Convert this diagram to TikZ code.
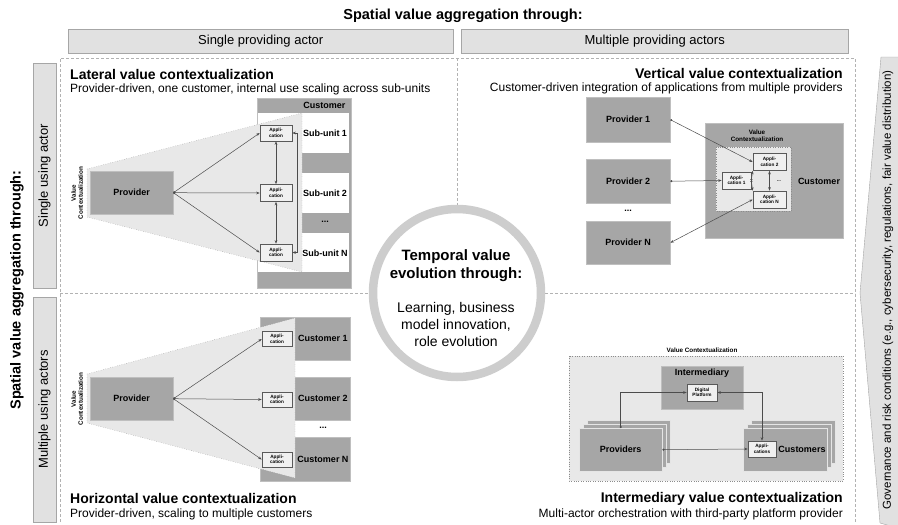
\documentclass[tikz,border=0pt]{standalone}
\usepackage{fontspec}
\setmainfont{Liberation Sans}
\usetikzlibrary{arrows.meta}
\definecolor{boxgray}{HTML}{A6A6A6}
\definecolor{hdrgray}{HTML}{E1E1E1}
\definecolor{fangray}{HTML}{E8E8E8}
\definecolor{ringgray}{HTML}{CDCDCD}
\newcommand{\fsHead}{\fontsize{14.5}{16}\selectfont\bfseries}
\newcommand{\fsBar}{\fontsize{13}{15}\selectfont}
\newcommand{\fsTitle}{\fontsize{14}{16}\selectfont\bfseries}
\newcommand{\fsSub}{\fontsize{12}{14}\selectfont}
\newcommand{\fsBox}{\fontsize{9}{10.5}\selectfont\bfseries}
\newcommand{\fsApp}{\fontsize{4.7}{5.4}\selectfont\bfseries}
\newcommand{\fsVC}{\fontsize{6.3}{7}\selectfont\bfseries}
\begin{document}
\begin{tikzpicture}[x=1pt,y=-1pt,
  hdrbox/.style={draw=black!35, fill=hdrgray, font=\fsBar, inner sep=0pt},
  darkbox/.style={fill=boxgray, draw=black!25, font=\fsBox, inner sep=0pt, anchor=north west},
  appbox/.style={fill=black!6, draw=black!65, line width=0.6pt, font=\fsApp, align=center, inner sep=0pt},
  fan/.style={fill=fangray, draw=black!45, dotted},
  sep/.style={draw=black!30, line width=0.6pt, dash pattern=on 3pt off 2pt},
  conn/.style={draw=black!70, line width=0.5pt, {Circle[length=2pt]}-{Stealth[length=3.5pt,width=2.6pt]}},
  dbl/.style={draw=black!70, line width=0.5pt, {Stealth[length=3.5pt,width=2.6pt]}-{Stealth[length=3.5pt,width=2.6pt]}},
  ttl/.style={font=\fsTitle, inner sep=0pt},
  subttl/.style={font=\fsSub, inner sep=0pt}]
  \useasboundingbox (0,0) rectangle (898,525);

  \node[font=\fsHead] (head) at (463,16) {Spatial value aggregation through:};
  \node[hdrbox, anchor=north west, minimum width=385pt, minimum height=24pt] (hsingle) at (68,29) {Single providing actor};
  \node[hdrbox, anchor=north west, minimum width=387pt, minimum height=24pt] (hmulti) at (461,29) {Multiple providing actors};
  \node[font=\fsHead, rotate=90] (headv) at (17,290) {Spatial value aggregation through:};
  \node[hdrbox, rotate=90, minimum width=225pt, minimum height=23pt] (husesingle) at (44.5,175.5) {Single using actor};
  \node[hdrbox, rotate=90, minimum width=225pt, minimum height=23pt] (husemulti) at (44.5,409.5) {Multiple using actors};

  \filldraw[draw=black!35, fill=hdrgray] (881,57) -- (905,57) -- (905,530) -- (880,523) -- (860,293) -- cycle;
  \node[font=\fontsize{11.5}{13}\selectfont, rotate=90] (gov) at (888,290) {Governance and risk conditions (e.g., cybersecurity, regulations, fair value distribution)};

  \draw[sep] (60,522) -- (60,58) -- (855,58) -- (855,522);
  \draw[sep] (457,58) -- (457,293);
  \draw[sep] (60,293) -- (855,293);

  % lateral
  \node[ttl, anchor=west] (latttl) at (70,74) {Lateral value contextualization};
  \node[subttl, anchor=west] (latsub) at (70,89) {Provider-driven, one customer, internal use scaling across sub-units};
  \node[darkbox, minimum width=94pt, minimum height=190pt] (latcust) at (257,98) {};
  \node[font=\fsBox, anchor=east] (latcusttxt) at (349,105) {Customer};
  \fill[white] (258,113) rectangle (349,153);
  \fill[white] (258,173) rectangle (349,213);
  \fill[white] (258,233) rectangle (349,272);
  \draw[fan] (87,169) -- (302,113) -- (302,272) -- (87,217) -- cycle;
  \node[darkbox, minimum width=83pt, minimum height=43pt] (latprov) at (90,171) {Provider};
  \node[font=\fsVC, rotate=90, align=center] (latvc) at (77,193) {Value\\Contextualization};
  \node[font=\fsBox] (su1) at (325,133) {Sub-unit 1};
  \node[font=\fsBox] (su2) at (325,193) {Sub-unit 2};
  \node[font=\fsBox] (sudots) at (325,222) {...};
  \node[font=\fsBox] (sun) at (325,253) {Sub-unit N};
  \node[appbox, minimum width=32pt, minimum height=16pt] (latapp1) at (276,133) {Appli-\\cation};
  \node[appbox, minimum width=32pt, minimum height=17pt] (latapp2) at (276,193) {Appli-\\cation};
  \node[appbox, minimum width=32pt, minimum height=17pt] (latappn) at (276,252.5) {Appli-\\cation};
  \draw[conn] (latprov.east) -- (latapp1.west);
  \draw[conn] (latprov.east) -- (latapp2.west);
  \draw[conn] (latprov.east) -- (latappn.west);
  \draw[dbl] (latapp1.south) -- (latapp2.north);
  \draw[dbl] (latapp2.south) -- (latappn.north);
  \draw[dbl] (latapp1.east) -- ++(5,0) |- (latappn.east);

  % horizontal
  \node[ttl, anchor=west] (horttl) at (70,498) {Horizontal value contextualization};
  \node[subttl, anchor=west] (horsub) at (70,514) {Provider-driven, scaling to multiple customers};
  \node[darkbox, minimum width=90pt, minimum height=43pt] (horcust1) at (260,317) {};
  \node[darkbox, minimum width=90pt, minimum height=43pt] (horcust2) at (260,377) {};
  \node[darkbox, minimum width=90pt, minimum height=44pt] (horcustn) at (260,437) {};
  \draw[fan] (87,374) -- (295,318) -- (295,478) -- (87,423) -- cycle;
  \node[darkbox, minimum width=83pt, minimum height=43pt] (horprov) at (90,377) {Provider};
  \node[font=\fsVC, rotate=90, align=center] (horvc) at (77,399) {Value\\Contextualization};
  \node[font=\fsBox] (hc1) at (323,338.5) {Customer 1};
  \node[font=\fsBox] (hc2) at (323,398.5) {Customer 2};
  \node[font=\fsBox] (hcdots) at (323,428) {...};
  \node[font=\fsBox] (hcn) at (323,459) {Customer N};
  \node[appbox, minimum width=30pt, minimum height=15pt] (horapp1) at (277,339) {Appli-\\cation};
  \node[appbox, minimum width=30pt, minimum height=15pt] (horapp2) at (277,399.5) {Appli-\\cation};
  \node[appbox, minimum width=30pt, minimum height=15pt] (horappn) at (277,459.5) {Appli-\\cation};
  \draw[conn] (horprov.east) -- (horapp1.west);
  \draw[conn] (horprov.east) -- (horapp2.west);
  \draw[conn] (horprov.east) -- (horappn.west);

  % vertical
  \node[ttl, anchor=east] (verttl) at (843,73) {Vertical value contextualization};
  \node[subttl, anchor=east] (versub) at (843,88) {Customer-driven integration of applications from multiple providers};
  \node[darkbox, minimum width=84pt, minimum height=45pt] (verprov1) at (586,97) {Provider 1};
  \node[darkbox, minimum width=84pt, minimum height=44pt] (verprov2) at (586,159) {Provider 2};
  \node[font=\fsBox] (vpdots) at (628,211) {...};
  \node[darkbox, minimum width=84pt, minimum height=43pt] (verprovn) at (586,221) {Provider N};
  \node[darkbox, minimum width=138pt, minimum height=115pt] (vercust) at (705,123) {};
  \node[font=\fsBox] (vercusttxt) at (819,181) {Customer};
  \node[font=\fsVC, align=center] (vervc) at (757,136) {Value\\Contextualization};
  \draw[fan] (716,147) rectangle (791,211);
  \node[appbox, minimum width=33pt, minimum height=17pt] (verapp2) at (769.5,162) {Appli-\\cation 2};
  \node[appbox, minimum width=29pt, minimum height=17pt] (verapp1) at (736.5,180.5) {Appli-\\cation 1};
  \node[appbox, minimum width=33pt, minimum height=17pt] (verappn) at (769.5,199.5) {Appli-\\cation N};
  \node[font=\fsApp] (vadots) at (779,181) {...};
  \draw[conn] (verprov1.east) -- (verapp2.west);
  \draw[conn] (verprov2.east) -- (verapp1.west);
  \draw[dbl] (verprovn.east) -- (verappn.west);
  \draw[conn] (verapp1.east) -- (verapp2.south west);
  \draw[conn] (verapp1.east) -- (verappn.north west);
  \draw[dbl] (verapp2.south) -- (verappn.north);

  % intermediary
  \node[ttl, anchor=east] (intttl) at (843,499) {Intermediary value contextualization};
  \node[subttl, anchor=east] (intsub) at (843,514) {Multi-actor orchestration with third-party platform provider};
  \node[font=\fsVC] (intvc) at (702,350) {Value Contextualization};
  \draw[fan] (569,356) rectangle (843,481);
  \node[darkbox, minimum width=82pt, minimum height=43pt] (intermed) at (661,366) {};
  \node[font=\fsBox] (intermedtxt) at (702,373.5) {Intermediary};
  \node[appbox, minimum width=30pt, minimum height=17pt] (platform) at (702,392.5) {Digital\\Platform};
  \node[darkbox, draw=black!10, minimum width=83pt, minimum height=43pt] (provback) at (587,420) {};
  \node[darkbox, draw=black!10, minimum width=83pt, minimum height=43pt] (provmid) at (583,424) {};
  \node[darkbox, draw=black!10, minimum width=83pt, minimum height=43pt] (providers) at (579,428) {Providers};
  \node[darkbox, draw=black!10, minimum width=84pt, minimum height=43pt] (custback) at (751,420) {};
  \node[darkbox, draw=black!10, minimum width=84pt, minimum height=43pt] (custmid) at (747,424) {};
  \node[darkbox, draw=black!10, minimum width=84pt, minimum height=43pt] (customers) at (743,428) {};
  \node[font=\fsBox] (customerstxt) at (802,449) {Customers};
  \node[appbox, minimum width=28pt, minimum height=16pt] (intapps) at (762,449) {Appli-\\cations};
  \draw[conn] (providers.east) -- (intapps.west);
  \draw[conn] (providers.north) |- (platform.west);
  \draw[dbl] (platform.east) -| (intapps.north);

  % temporal
  \node[circle, draw=ringgray, line width=8.5pt, fill=white, minimum size=168pt] (ring) at (457,293) {};
  \node[font=\fontsize{15}{18}\selectfont\bfseries, align=center] (temp) at (456,266) {Temporal value\\evolution through:};
  \node[font=\fontsize{14}{17}\selectfont, align=center] (tempsub) at (456,324) {Learning, business\\model innovation,\\role evolution};
\end{tikzpicture}
\end{document}
